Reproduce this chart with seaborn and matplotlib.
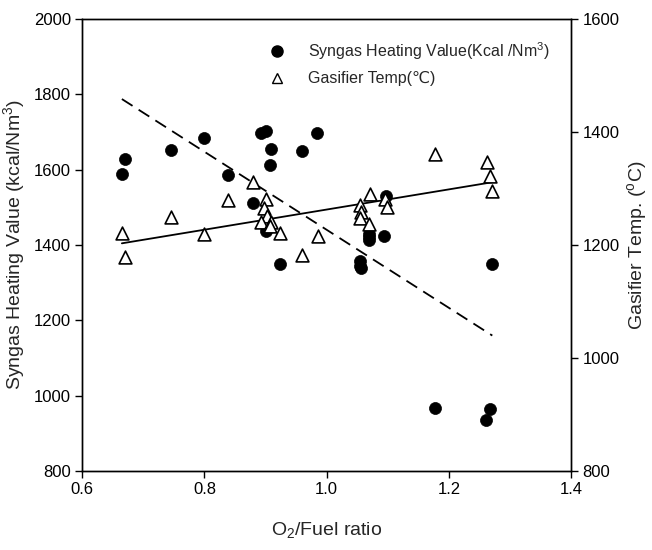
import matplotlib
matplotlib.use("Agg")
import matplotlib.pyplot as plt
import seaborn as sns
import numpy as np
import pandas as pd
from matplotlib.lines import Line2D

# Syngas heating value (left axis)
hv_x = [0.665, 0.670, 0.746, 0.799, 0.838, 0.880, 0.893, 0.900, 0.909, 0.908,
        0.900, 0.924, 0.959, 0.985, 1.097, 1.070, 1.069, 1.070, 1.094, 1.054,
        1.054, 1.056, 1.271, 1.177, 1.267, 1.261]
hv_y = [1588, 1629, 1651, 1683, 1586, 1512, 1698, 1702, 1655, 1612,
        1436, 1351, 1650, 1697, 1530, 1430, 1420, 1414, 1425, 1358,
        1345, 1338, 1350, 967, 964, 936]

# Gasifier temperature (right axis)
gt_x = [0.665, 0.670, 0.746, 0.799, 0.838, 0.880, 0.900, 0.898, 0.902, 0.892,
        0.909, 0.908, 0.924, 0.959, 0.986, 1.177, 1.262, 1.267, 1.271, 1.0705,
        1.095, 1.098, 1.054, 1.057, 1.054, 1.070]
gt_y = [1221, 1178, 1249, 1219, 1280, 1311, 1282, 1265, 1251, 1240,
        1240, 1233, 1222, 1183, 1216, 1361, 1346, 1322, 1296, 1291,
        1282, 1268, 1270, 1259, 1247, 1237]

# Trend lines (end points)
fit_x = [0.665, 1.271]
fit_hv = [1787, 1160]
fit_gt = [1203, 1311]

x_ticks = [0.6, 0.8, 1.0, 1.2, 1.4]
hv_ticks = [800, 1000, 1200, 1400, 1600, 1800, 2000]
gt_ticks = [800, 1000, 1200, 1400, 1600]

sns.set_theme(style="ticks")
plt.rcParams['font.family'] = ['Liberation Sans', 'DejaVu Sans']
plt.rcParams['mathtext.fontset'] = 'custom'
plt.rcParams['mathtext.rm'] = 'Liberation Sans'
plt.rcParams['mathtext.it'] = 'Liberation Sans'

fig = plt.figure(figsize=(6.52, 5.5), dpi=100)
ax = fig.add_axes([0.126, 0.143, 0.750, 0.823])
ax2 = ax.twinx()

df_hv = pd.DataFrame({"x": hv_x, "y": hv_y})
df_gt = pd.DataFrame({"x": gt_x, "y": gt_y})
df_fh = pd.DataFrame({"x": fit_x, "y": fit_hv})
df_fg = pd.DataFrame({"x": fit_x, "y": fit_gt})

sns.lineplot(data=df_fh, x="x", y="y", ax=ax, color="black", lw=1.3,
             linestyle=(0, (7, 4)))
sns.scatterplot(data=df_hv, x="x", y="y", ax=ax, marker="o", s=75,
                color="black", edgecolor="black", linewidth=0.5, zorder=3)

sns.lineplot(data=df_fg, x="x", y="y", ax=ax2, color="black", lw=1.3)
sns.scatterplot(data=df_gt, x="x", y="y", ax=ax2, marker="^", s=85,
                facecolor="white", edgecolor="black", linewidth=1.2, zorder=3)

ax.set_xlim(0.6, 1.4)
ax.set_ylim(800, 2000)
ax2.set_ylim(800, 1600)
ax.set_xticks(x_ticks)
ax.set_xticklabels([f"{v:.1f}" for v in x_ticks])
ax.set_yticks(hv_ticks)
ax2.set_yticks(gt_ticks)

for a in (ax, ax2):
    for s in a.spines.values():
        s.set_visible(True)
        s.set_color("black")
        s.set_linewidth(1.0)
    a.tick_params(direction="out", length=5, width=1, colors="black",
                  labelsize=12, pad=3)

ax.set_xlabel("O$_2$/Fuel ratio", fontsize=14, labelpad=16)
ax.set_ylabel("Syngas Heating Value (kcal/Nm$^3$)", fontsize=14, labelpad=5)
ax2.set_ylabel("Gasifier Temp. ($^{o}$C)", fontsize=14, labelpad=4)

handles = [
    Line2D([], [], marker="o", color="black", linestyle="none", markersize=8),
    Line2D([], [], marker="^", markerfacecolor="white", markeredgecolor="black",
           linestyle="none", markersize=7, markeredgewidth=1.0),
]
labels = ["Syngas Heating Value(Kcal /Nm$^3$)", "Gasifier Temp(\u2103)"]
ax2.legend(handles, labels, loc="upper right", bbox_to_anchor=(0.985, 0.985),
           frameon=False, prop={"size": 11.5},
           handletextpad=0.9, labelspacing=0.6, borderaxespad=0.5)

fig.savefig("out.png", dpi=100)
